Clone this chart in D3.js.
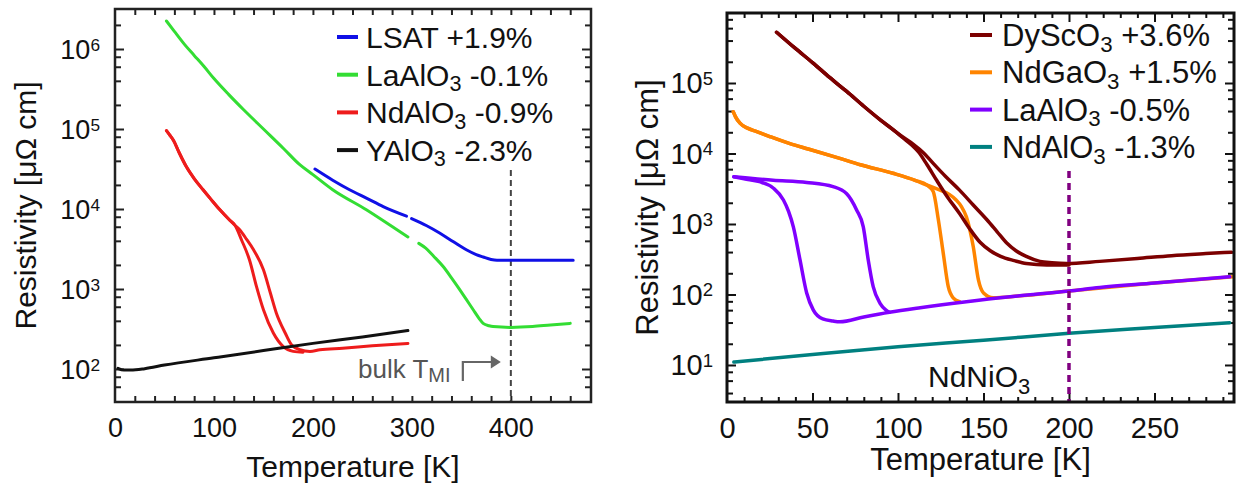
<!DOCTYPE html>
<html><head><meta charset="utf-8">
<script src="https://cdn.jsdelivr.net/npm/d3@7"></script>
<style>
body{margin:0;background:#fff}
svg{display:block}
text{font-family:"Liberation Sans",Arial,Helvetica,sans-serif}
</style>
</head><body>
<svg id="c" width="1238" height="484"></svg>
<script>
// ---------- Left panel data: [temperature K, resistivity µΩ cm] ----------
const lsatPart1 = [[202,31600],[220,22900],[237,17400],[255,13500],[271,10700],[294.6,8130]];
const lsatPart2 = [[299.7,7590],[315,6170],[328,5010],[342,3890],[355,3090],[365,2690],[372,2510],[380,2340],[386,2290],[420,2290],[463,2290]];
const laoLeftPart1 = [[52,2240000],[60,1660000],[70,1150000],[80,832000],[90,603000],[100,427000],[115,269000],[130,174000],[150,100000],[170,57500],[187,35500],[200,26900],[220,17400],[254,9770],[280,6030],[296,4470]];
const laoLeftPart2 = [[307,3720],[314,3240],[322,2570],[331.6,1910],[340,1380],[348.5,977],[355,741],[362,550],[368,427],[372,372],[378,347],[382,339],[400,331],[422,339],[440,355],[460,372]];
const ndaoLeftCommon = [[52,95500],[55,85100],[59,72400],[65,50100],[72,33900],[80,24000],[89,17400],[97,13200],[106,9770],[116,7240],[121,6310]];
const ndaoLeftCool = [[128,4070],[136,2290],[143,1070],[150,550],[160,282],[170,191],[180,166],[190,162]];
const ndaoLeftWarm = [[126,5500],[133,4170],[140,3090],[150,1740],[157,891],[163,501],[172,282],[178.5,200],[187,174],[197,166],[207,174],[230,182],[260,195],[296,209]];
const yaoLeft = [[3,102],[9,97],[16,97],[30,101],[50,112],[100,138],[150,170],[200,209],[250,251],[296,302]];

const leftLegend = ["LSAT +1.9%","LaAlO_3 -0.1%","NdAlO_3 -0.9%","YAlO_3 -2.3%"];
const leftColors = ["#1010e6","#33dd33","#ee1c1c","#111111"];
const leftXLabels = [0,100,200,300,400];
const leftYExponents = [2,3,4,5,6];
const leftBulkT = 400;

// ---------- Right panel data ----------
const dsoCommon = [[29,525000],[40,309000],[50,195000],[60,120000],[70,75900],[80,46800],[90,29500],[97,21900]];
const dsoCool = [[103,16600],[108,13200],[112,10500],[117,6920],[122.6,4170],[129,2400],[136,1410],[142,851],[148,550],[154,417],[160,347],[168,302],[175,275],[187,263],[200,263]];
const dsoWarm = [[103,17000],[109,13500],[115,10200],[120.6,7240],[128,4680],[136,3020],[144,1860],[152,1150],[158,776],[163.6,537],[169,417],[175,347],[183,295],[190,282],[198.6,275],[218,295],[240,324],[260,355],[280,380],[295,398]];
const ngoCommon = [[3.7,38900],[5,33100],[7.6,26900],[12,22900],[17.4,20400],[25,17400],[36.8,13800],[48,11500],[66,8510],[78,6920],[97,5250],[110,4170],[117,3550]];
const ngoCool = [[120.6,2880],[123.6,1150],[126.5,380],[129.4,129],[132.4,89],[136,79]];
const ngoWarm = [[124.6,3020],[130,2630],[134,2190],[137,1780],[140,1260],[144,479],[147,162],[150,105],[155.7,90],[170,95],[200,112],[250,145],[296,178]];
const laoRightCool = [[4,4680],[10,4370],[19,3980],[27,3240],[33,2190],[36,1510],[38.8,912],[42.7,309],[46.6,105],[50.5,60],[56,45],[62,42],[66,41],[80,48],[95,56],[113,65],[140,79],[170,95],[200,112],[218,126],[250,145],[294,178]];
const laoRightWarm = [[4,4680],[27,4170],[46.6,3890],[62,3390],[70,2690],[75.8,1580],[79.7,912],[82.6,309],[85.5,129],[89.5,75],[93,60],[95,56]];
const naoRight = [[4,11.0],[50,14.1],[100,18.2],[150,22.4],[200,28.2],[250,33.9],[294,39.8]];

const rightLegend = ["DyScO_3 +3.6%","NdGaO_3 +1.5%","LaAlO_3 -0.5%","NdAlO_3 -1.3%"];
const rightColors = ["#7c0000","#ff8400","#8000ff","#008080"];
const rightXLabels = [0,50,100,150,200,250];
const rightYExponents = [1,2,3,4,5];
const rightBulkT = 200;

// ---------- drawing ----------
const svg = d3.select("#c");
svg.append("rect").attr("width",1238).attr("height",484).attr("fill","#fff");

function addText(sel, str, subSize, subDy){
  const parts = str.split(/_(\d)/);
  let pending = 0;
  parts.forEach((p,i)=>{
    if(p==="") return;
    const ts = sel.append("tspan").text(p);
    if(i%2===1){ ts.attr("font-size",subSize).attr("dy",subDy); pending=-subDy; }
    else if(pending){ ts.attr("dy",pending); pending=0; }
  });
}

function makePanel(cfg){
  const x = d3.scaleLinear().domain(cfg.xDomain).range([cfg.left,cfg.right]);
  const y = d3.scaleLog().domain(cfg.yDomain).range([cfg.bottom,cfg.top]);
  const g = svg.append("g");
  const clipId = "clip"+cfg.id;
  svg.append("clipPath").attr("id",clipId).append("rect")
    .attr("x",cfg.left).attr("y",cfg.top).attr("width",cfg.right-cfg.left).attr("height",cfg.bottom-cfg.top);

  const xt = d3.range(cfg.xStep, cfg.xDomain[1]-1, cfg.xStep);
  const xMaj = xt.filter(v=>v%cfg.xMajorEvery===0);
  const xMin = xt.filter(v=>v%cfg.xMajorEvery!==0);
  const styleTicks = s=>{ s.select(".domain").remove(); s.selectAll("line").attr("stroke",cfg.frameColor).attr("stroke-width",cfg.tickWidth); };
  [[xMin,cfg.xMinorLen],[xMaj,cfg.xMajorLen]].forEach(([vals,len])=>{
    g.append("g").attr("transform",`translate(0,${cfg.bottom})`)
      .call(d3.axisBottom(x).tickValues(vals).tickSize(-len).tickFormat("")).call(styleTicks);
    g.append("g").attr("transform",`translate(0,${cfg.top})`)
      .call(d3.axisTop(x).tickValues(vals).tickSize(-len).tickFormat("")).call(styleTicks);
  });
  const [lo,hi] = cfg.yDomain;
  const yMaj=[], yMin=[];
  for(let e=Math.floor(Math.log10(lo)); e<=Math.ceil(Math.log10(hi)); e++){
    [1,2,4,6,8].forEach(m=>{
      const v=m*Math.pow(10,e);
      const py=y(v);
      if(v>lo && v<hi && py<cfg.bottom-2 && py>cfg.top+2){ (m===1?yMaj:yMin).push(v); }
    });
  }
  [[yMin,cfg.yMinorLen],[yMaj,cfg.yMajorLen]].forEach(([vals,len])=>{
    g.append("g").attr("transform",`translate(${cfg.left},0)`)
      .call(d3.axisLeft(y).tickValues(vals).tickSize(-len).tickFormat("")).call(styleTicks);
    g.append("g").attr("transform",`translate(${cfg.right},0)`)
      .call(d3.axisRight(y).tickValues(vals).tickSize(-len).tickFormat("")).call(styleTicks);
  });

  const xl = g.append("g").attr("transform",`translate(0,${cfg.bottom})`)
    .call(d3.axisBottom(x).tickValues(cfg.xLabels).tickSize(0).tickPadding(cfg.xLabelPad).tickFormat(d3.format("d")));
  xl.select(".domain").remove();
  xl.selectAll("text").attr("font-size",cfg.tickFont).attr("fill","#111")
    .attr("font-family",'"Liberation Sans",Arial,sans-serif');

  cfg.yExps.forEach(e=>{
    const t = g.append("text").attr("x",cfg.left-cfg.yLabelGap).attr("y",y(Math.pow(10,e))+cfg.tickFont*0.36)
      .attr("text-anchor","end").attr("font-size",cfg.tickFont).attr("fill","#111");
    t.append("tspan").text("10");
    t.append("tspan").attr("font-size",cfg.tickFont*0.64).attr("dy",-cfg.tickFont*0.3).text(e);
  });

  g.append("text").attr("x",(cfg.left+cfg.right)/2).attr("y",cfg.xTitleY)
    .attr("text-anchor","middle").attr("font-size",cfg.titleFont).attr("fill","#111").text("Temperature [K]");
  g.append("text").attr("transform",`translate(${cfg.yTitleX},${(cfg.top+cfg.bottom)/2}) rotate(-90)`)
    .attr("text-anchor","middle").attr("font-size",cfg.titleFont).attr("fill","#111").text("Resistivity [\u03bc\u03a9 cm]");

  const plot = svg.append("g").attr("clip-path",`url(#${clipId})`);
  return {x,y,g,plot};
}

function drawLine(P, data, color, width){
  const line = d3.line().x(d=>P.x(d[0])).y(d=>P.y(d[1])).curve(d3.curveMonotoneX);
  P.plot.append("path").datum(data).attr("d",line).attr("fill","none")
    .attr("stroke",color).attr("stroke-width",width).attr("stroke-linecap","round").attr("stroke-linejoin","round");
}

function legend(entries, colors, lx0, lx1, tx, y0, dy, font){
  entries.forEach((s,i)=>{
    const cy = y0 + i*dy;
    svg.append("line").attr("x1",lx0).attr("x2",lx1).attr("y1",cy).attr("y2",cy)
      .attr("stroke",colors[i]).attr("stroke-width",4);
    const t = svg.append("text").attr("x",tx).attr("y",cy+font*0.36).attr("font-size",font).attr("fill","#111");
    addText(t, s, font*0.72, font*0.18);
  });
}

// ----- Left panel -----
const L = makePanel({id:"L", left:115,right:591,top:9,bottom:402,
  xDomain:[0,481], yDomain:[Math.pow(10,1.5875),Math.pow(10,6.5)],
  xStep:20, xMajorEvery:20, xMinorLen:6, xMajorLen:6, yMinorLen:6, yMajorLen:9,
  xLabels:leftXLabels, yExps:leftYExponents, tickFont:27, xLabelPad:16, yLabelGap:15,
  titleFont:30, xTitleY:477, yTitleX:36, frameColor:"#222", tickWidth:2});

const bulkX = L.x(leftBulkT);
L.plot.append("line").attr("x1",bulkX).attr("x2",bulkX).attr("y1",170).attr("y2",402)
  .attr("stroke","#444").attr("stroke-width",2).attr("stroke-dasharray","6,4");

drawLine(L, ndaoLeftCommon.concat(ndaoLeftCool), leftColors[2], 3);
drawLine(L, ndaoLeftCommon.concat(ndaoLeftWarm), leftColors[2], 3);
drawLine(L, yaoLeft, leftColors[3], 3);
drawLine(L, laoLeftPart1, leftColors[1], 3);
drawLine(L, laoLeftPart2, leftColors[1], 3);
drawLine(L, lsatPart1, leftColors[0], 3);
drawLine(L, lsatPart2, leftColors[0], 3);

svg.append("rect").attr("x",115).attr("y",9).attr("width",476).attr("height",393)
  .attr("fill","none").attr("stroke","#222").attr("stroke-width",2.5);

const bt = svg.append("text").attr("x",358).attr("y",378).attr("font-size",26).attr("fill","#555");
bt.append("tspan").text("bulk T");
bt.append("tspan").attr("font-size",20).attr("dy",4).text("MI");
svg.append("path").attr("d",`M${bulkX-48},381 V362 H${bulkX-19}`).attr("fill","none")
  .attr("stroke","#666").attr("stroke-width",2.2);
svg.append("path").attr("d",`M${bulkX-20},355.5 L${bulkX-10},362 L${bulkX-20},368.5 Z`).attr("fill","#666");

legend(leftLegend, leftColors, 337, 358, 366, 37, 37.7, 30);

// ----- Right panel -----
const R = makePanel({id:"R", left:727,right:1234,top:13,bottom:402,
  xDomain:[0,296.5], yDomain:[Math.pow(10,0.475),Math.pow(10,5.993)],
  xStep:10, xMajorEvery:50, xMinorLen:5, xMajorLen:9, yMinorLen:6, yMajorLen:9,
  xLabels:rightXLabels, yExps:rightYExponents, tickFont:29, xLabelPad:15, yLabelGap:14,
  titleFont:31, xTitleY:470, yTitleX:658, frameColor:"#111", tickWidth:2});

drawLine(R, naoRight, rightColors[3], 3.5);
drawLine(R, ngoCommon.concat(ngoCool), rightColors[1], 3.5);
drawLine(R, ngoCommon.concat(ngoWarm), rightColors[1], 3.5);
drawLine(R, laoRightWarm, rightColors[2], 3.5);
drawLine(R, laoRightCool, rightColors[2], 3.5);
drawLine(R, dsoCommon.concat(dsoCool), rightColors[0], 3.5);
drawLine(R, dsoCommon.concat(dsoWarm), rightColors[0], 3.5);

const rx = R.x(rightBulkT);
R.plot.append("line").attr("x1",rx).attr("x2",rx).attr("y1",171).attr("y2",402)
  .attr("stroke","#800080").attr("stroke-width",3.5).attr("stroke-dasharray","7,5");

svg.append("rect").attr("x",727).attr("y",13).attr("width",507).attr("height",389)
  .attr("fill","none").attr("stroke","#111").attr("stroke-width",3);

const nn = svg.append("text").attr("x",928).attr("y",387).attr("font-size",30).attr("fill","#111");
addText(nn, "NdNiO_3", 22, 7);

legend(rightLegend, rightColors, 970, 992, 1002, 35, 37.3, 31);
</script>
</body></html>
